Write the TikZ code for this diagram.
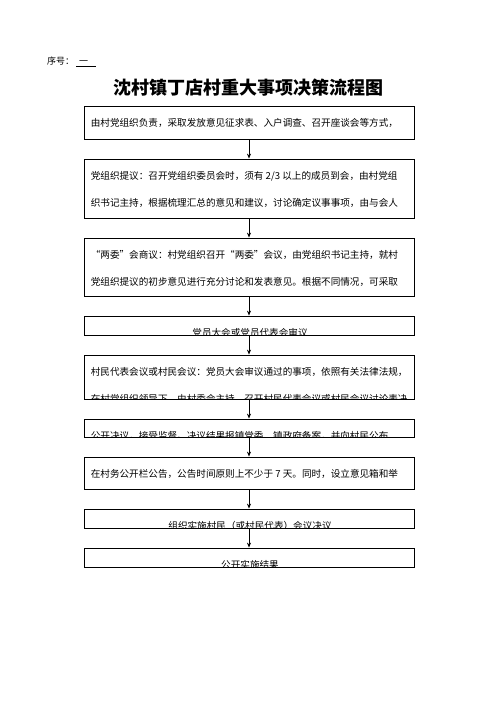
\documentclass[tikz,border=0pt]{standalone}
\usepackage{fontspec}
\setmainfont{Noto Sans CJK SC}
\usetikzlibrary{positioning,arrows.meta}
\newcommand\boxfont{\fontsize{9.6pt}{27pt}\selectfont}
\newcommand\lineleft[3]{%
	\begin{scope}
		\clip (#1.south west) rectangle (#1.north east);
		\node[steptext, anchor=base west] at ([shift={(7pt,{-21.3pt-27pt*(#2-1)})}]#1.north west) {#3};
	\end{scope}}
\newcommand\linemid[2]{%
	\begin{scope}
		\clip (#1.south west) rectangle (#1.north east);
		\node[steptext, anchor=base] at ([shift={(1pt,-21.3pt)}]#1.north) {#2};
	\end{scope}}
\begin{document}
\begin{tikzpicture}[x=1pt, y=-1pt,
		node distance=19.2pt,
		stepbox/.style={draw, line width=0.8pt, minimum width=330pt,
			minimum height=#1, inner sep=0pt},
		steptext/.style={inner sep=0pt, font=\boxfont},
		flow/.style={line width=0.8pt, -{Stealth[length=5pt, width=4pt]}}]
	\useasboundingbox (0,0) rectangle (496,702);
	\node[anchor=west, inner sep=0pt, font=\fontsize{9pt}{10pt}\selectfont] (serial) at (47,62)
		{序号：\hspace{2pt}\underline{\hspace{3pt}一\hspace{8pt}}};
	\node[font=\fontsize{18pt}{20pt}\selectfont\bfseries] (title) at (248,88)
		{沈村镇丁店村重大事项决策流程图};
	\node[stepbox=33pt] (s1) at (249,122.5) {};
	\node[stepbox=59pt, below=of s1] (s2) {};
	\node[stepbox=58pt, below=of s2] (s3) {};
	\node[stepbox=19pt, below=of s3] (s4) {};
	\node[stepbox=44pt, below=of s4] (s5) {};
	\node[stepbox=18pt, below=of s5] (s6) {};
	\node[stepbox=32pt, below=of s6] (s7) {};
	\node[stepbox=19pt, below=of s7] (s8) {};
	\node[stepbox=19pt, below=of s8] (s9) {};
	\lineleft{s1}{1}{由村党组织负责，采取发放意见征求表、入户调查、召开座谈会等方式，}
	\lineleft{s2}{1}{党组织提议：召开党组织委员会时，须有 2/3 以上的成员到会，由村党组}
	\lineleft{s2}{2}{织书记主持，根据梳理汇总的意见和建议，讨论确定议事事项，由与会人}
	\lineleft{s3}{1}{“两委”会商议：村党组织召开“两委”会议，由党组织书记主持，就村}
	\lineleft{s3}{2}{党组织提议的初步意见进行充分讨论和发表意见。根据不同情况，可采取}
	\linemid{s4}{党员大会或党员代表会审议}
	\lineleft{s5}{1}{村民代表会议或村民会议：党员大会审议通过的事项，依照有关法律法规，}
	\lineleft{s5}{2}{在村党组织领导下，由村委会主持，召开村民代表会议或村民会议讨论表决}
	\lineleft{s6}{1}{公开决议，接受监督。决议结果报镇党委、镇政府备案，并向村民公布}
	\lineleft{s7}{1}{在村务公开栏公告，公告时间原则上不少于 7 天。同时，设立意见箱和举}
	\linemid{s8}{组织实施村民（或村民代表）会议决议}
	\linemid{s9}{公开实施结果}
	\foreach \a/\b in {s1/s2, s2/s3, s3/s4, s4/s5, s5/s6, s6/s7, s7/s8, s8/s9}
		\draw[flow] (\a.south) -- (\b.north);
\end{tikzpicture}
\end{document}
